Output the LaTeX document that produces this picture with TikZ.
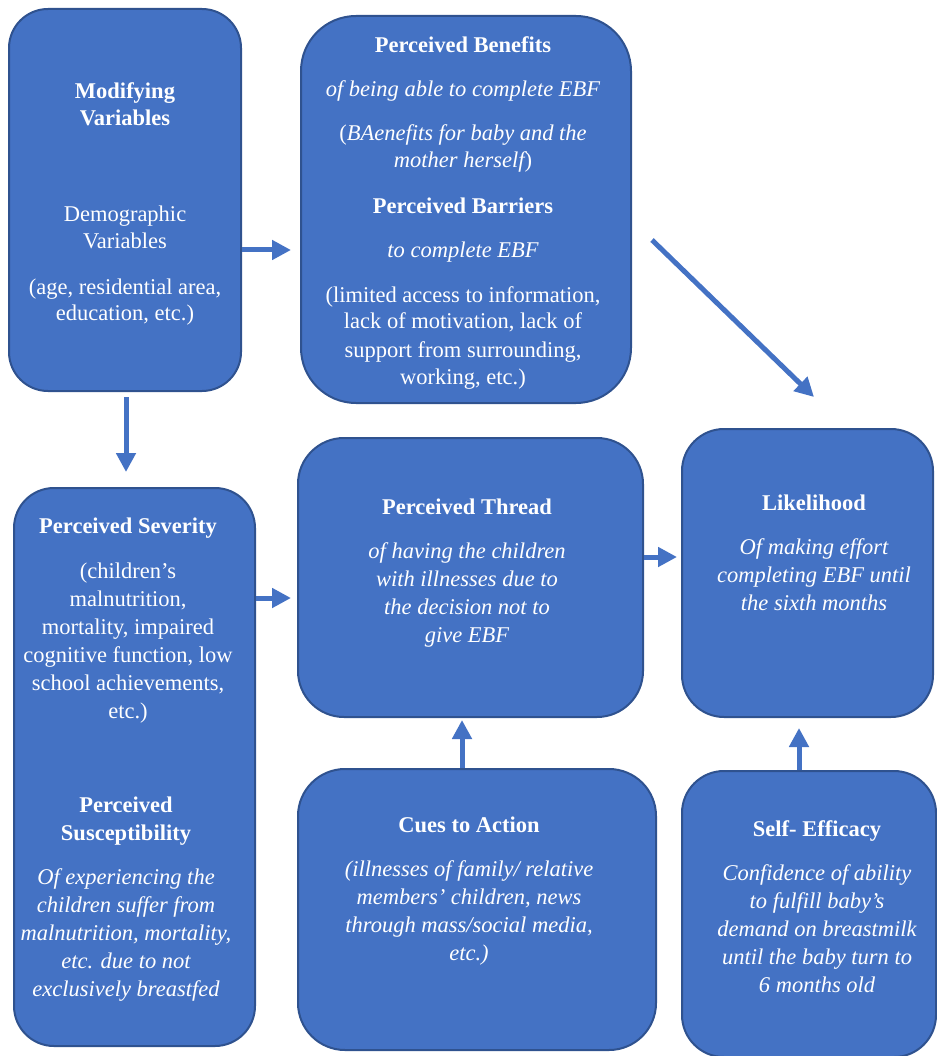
\documentclass[tikz,border=0pt]{standalone}
\usepackage{fontspec}
\setmainfont{Liberation Serif}
\usetikzlibrary{arrows.meta,calc}
\definecolor{boxfill}{HTML}{4472C4}
\definecolor{boxline}{HTML}{2F528F}
\begin{document}
\begin{tikzpicture}[x=1pt,y=-1pt,
  box/.style={draw=boxline,line width=2pt,fill=boxfill,rounded corners=#1,inner sep=0pt,anchor=north west},
  tx/.style={text=white,font=\fontsize{22.5}{27}\selectfont,anchor=mid,inner sep=0pt,yshift=-5pt},
  tb/.style={tx,font=\fontsize{22.5}{27}\selectfont\bfseries},
  ti/.style={tx,font=\fontsize{22.5}{27}\selectfont\itshape},
  arr/.style={draw=boxfill,line width=5pt,-{Triangle[length=19pt,width=19pt]}}]
\useasboundingbox (0,0) rectangle (936,1056);
% boxes
\node[box=39pt,minimum width=232pt,minimum height=382pt] (A) at (8,8) {};
\node[box=55pt,minimum width=330pt,minimum height=387pt] (B) at (300,15) {};
\node[box=40pt,minimum width=241pt,minimum height=558pt] (C) at (13,487) {};
\node[box=46pt,minimum width=345pt,minimum height=279pt] (D) at (297,437) {};
\node[box=42pt,minimum width=251pt,minimum height=288pt] (E) at (681,428) {};
\node[box=47pt,minimum width=358pt,minimum height=281pt] (F) at (297,768) {};
\node[box=42pt,minimum width=254pt,minimum height=286pt] (G) at (681,770) {};
% box A
\node[tb] (a1) at (125,91) {Modifying};
\node[tb] (a2) at (125,118) {Variables};
\node[tx] (a3) at (125,214) {Demographic};
\node[tx] (a4) at (125,241) {Variables};
\node[tx] (a5) at (125,287) {(age, residential area,};
\node[tx] (a6) at (125,313) {education, etc.)};
% box B
\node[tb] (b1) at (463,45) {Perceived Benefits};
\node[ti] (b2) at (463,89) {of being able to complete EBF};
\node[tx] (b3) at (463,133) {({\itshape BAenefits for baby and the}};
\node[tx] (b4) at (463,160) {{\itshape mother herself})};
\node[tb] (b5) at (463,206) {Perceived Barriers};
\node[ti] (b6) at (463,250) {to complete EBF};
\node[tx] (b7) at (463,295) {(limited access to information,};
\node[tx] (b8) at (463,321) {lack of motivation, lack of};
\node[tx] (b9) at (463,350) {support from surrounding,};
\node[tx] (b10) at (463,377) {working, etc.)};
% box C
\node[tb] (c1) at (128,526) {Perceived Severity};
\node[tx] (c2) at (128,571) {(children’s};
\node[tx] (c3) at (128,599) {malnutrition,};
\node[tx] (c4) at (128,627) {mortality, impaired};
\node[tx] (c5) at (128,655) {cognitive function, low};
\node[tx] (c6) at (128,683) {school achievements,};
\node[tx] (c7) at (128,711) {etc.)};
\node[tb] (c8) at (126,805) {Perceived};
\node[tb] (c9) at (126,833) {Susceptibility};
\node[ti] (c10) at (126,877) {Of experiencing the};
\node[ti] (c11) at (126,905) {children suffer from};
\node[ti] (c12) at (126,933) {malnutrition, mortality,};
\node[ti] (c13) at (126,961) {etc. due to not};
\node[ti] (c14) at (126,989) {exclusively breastfed};
% box D
\node[tb] (d1) at (467,507) {Perceived Thread};
\node[ti] (d2) at (467,551) {of having the children};
\node[ti] (d3) at (467,579) {with illnesses due to};
\node[ti] (d4) at (467,607) {the decision not to};
\node[ti] (d5) at (467,635) {give EBF};
% box E
\node[tb] (e1) at (814,503) {Likelihood};
\node[ti] (e2) at (814,547) {Of making effort};
\node[ti] (e3) at (814,575) {completing EBF until};
\node[ti] (e4) at (814,603) {the sixth months};
% box F
\node[tb] (f1) at (469,825) {Cues to Action};
\node[ti] (f2) at (469,869) {(illnesses of family/ relative};
\node[ti] (f3) at (469,897) {members’ children, news};
\node[ti] (f4) at (469,925) {through mass/social media,};
\node[ti] (f5) at (469,953) {etc.)};
% box G
\node[tb] (g1) at (817,829) {Self- Efficacy};
\node[ti] (g2) at (817,873) {Confidence of ability};
\node[ti] (g3) at (817,901) {to fulfill baby’s};
\node[ti] (g4) at (817,929) {demand on breastmilk};
\node[ti] (g5) at (817,957) {until the baby turn to};
\node[ti] (g6) at (817,985) {6 months old};
% connectors
\coordinate (yab) at (0,250);
\coordinate (xac) at (126,0);
\coordinate (ycd) at (0,598);
\coordinate (yde) at (0,557);
\coordinate (xfd) at (462,0);
\coordinate (xge) at (799,0);
\coordinate (dstart) at (652,240);
\draw[arr,shorten >=9pt] (A.east |- yab) -- (B.west |- yab);
\draw[arr,shorten <=5pt,shorten >=15pt] (A.south -| xac) -- (C.north -| xac);
\draw[arr,shorten >=6pt] (C.east |- ycd) -- (D.west |- ycd);
\draw[arr,shorten >=4pt] (D.east |- yde) -- (E.west |- yde);
\draw[arr,shorten >=2pt] (F.north -| xfd) -- (D.south -| xfd);
\draw[arr,shorten >=10pt] (G.north -| xge) -- (E.south -| xge);
\draw[arr] (dstart) -- ($(E.north)+(6.5,-31)$);
\end{tikzpicture}
\end{document}
